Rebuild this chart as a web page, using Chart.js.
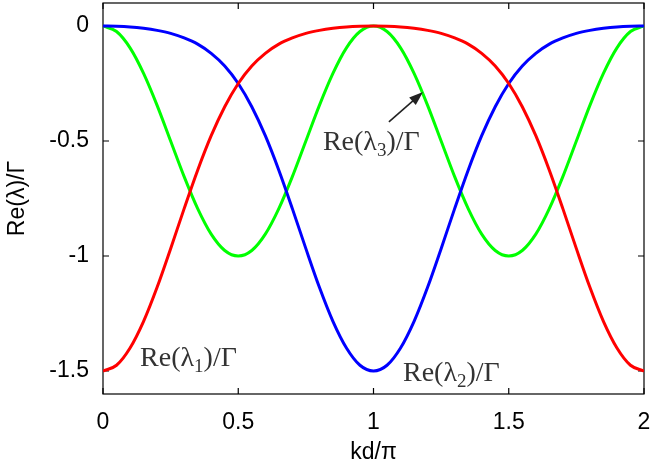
<!DOCTYPE html>
<html>
<head>
<meta charset="utf-8">
<script src="https://cdn.jsdelivr.net/npm/chart.js@4.4.1/dist/chart.umd.min.js"></script>
<style>
  html, body { margin: 0; padding: 0; background: #fff; }
  #wrap { width: 653px; height: 466px; }
</style>
</head>
<body>
<div id="wrap"><canvas id="eigChart"></canvas></div>
<script>
// kd/pi sample positions
const kd = [0, 0.05, 0.1, 0.15, 0.2, 0.25, 0.3, 0.35, 0.4, 0.45, 0.5,
            0.55, 0.6, 0.65, 0.7, 0.75, 0.8, 0.85, 0.9, 0.95, 1,
            1.05, 1.1, 1.15, 1.2, 1.25, 1.3, 1.35, 1.4, 1.45, 1.5,
            1.55, 1.6, 1.65, 1.7, 1.75, 1.8, 1.85, 1.9, 1.95, 2];

// Re(lambda_1)/Gamma
const lambda1 = [-1.5, -1.475, -1.4, -1.284, -1.136, -0.968, -0.794, -0.627, -0.477, -0.351, -0.25,
                 -0.174, -0.119, -0.079, -0.052, -0.032, -0.019, -0.01, -0.004, -0.001, 0,
                 -0.001, -0.004, -0.01, -0.019, -0.032, -0.052, -0.079, -0.119, -0.174, -0.25,
                 -0.351, -0.477, -0.627, -0.794, -0.968, -1.136, -1.284, -1.4, -1.475, -1.5];

// Re(lambda_2)/Gamma
const lambda2 = [0, -0.001, -0.004, -0.01, -0.019, -0.032, -0.052, -0.079, -0.119, -0.174, -0.25,
                 -0.351, -0.477, -0.627, -0.794, -0.968, -1.136, -1.284, -1.4, -1.475, -1.5,
                 -1.475, -1.4, -1.284, -1.136, -0.968, -0.794, -0.627, -0.477, -0.351, -0.25,
                 -0.174, -0.119, -0.079, -0.052, -0.032, -0.019, -0.01, -0.004, -0.001, 0];

// Re(lambda_3)/Gamma
const lambda3 = [0, -0.024, -0.095, -0.206, -0.345, -0.5, -0.655, -0.794, -0.905, -0.976, -1,
                 -0.976, -0.905, -0.794, -0.655, -0.5, -0.345, -0.206, -0.095, -0.024, 0,
                 -0.024, -0.095, -0.206, -0.345, -0.5, -0.655, -0.794, -0.905, -0.976, -1,
                 -0.976, -0.905, -0.794, -0.655, -0.5, -0.345, -0.206, -0.095, -0.024, 0];

const xTicks = [0, 0.5, 1, 1.5, 2];
const yTicks = [-1.5, -1, -0.5, 0];

const toPoints = (ys) => ys.map((y, i) => ({ x: kd[i], y: y }));

function curve(ys, color) {
  return {
    data: toPoints(ys),
    borderColor: color,
    borderWidth: 3,
    pointRadius: 0,
    fill: false,
    cubicInterpolationMode: 'monotone'
  };
}

// label like Re(λ₁)/Γ with a real subscript
function drawEigLabel(ctx, x, y, sub) {
  ctx.save();
  ctx.fillStyle = '#333';
  ctx.textBaseline = 'alphabetic';
  ctx.textAlign = 'left';
  ctx.font = '28px "Liberation Serif", "DejaVu Serif", serif';
  ctx.fillText('Re(λ', x, y);
  let cx = x + ctx.measureText('Re(λ').width;
  ctx.font = '19px "Liberation Serif", "DejaVu Serif", serif';
  ctx.fillText(sub, cx, y + 6);
  cx += ctx.measureText(sub).width;
  ctx.font = '28px "Liberation Serif", "DejaVu Serif", serif';
  ctx.fillText(')/Γ', cx, y);
  ctx.restore();
}

const framePlugin = {
  id: 'framePlugin',
  beforeDatasetsDraw(chart) {
    const { ctx, chartArea: a, scales } = chart;
    ctx.save();
    ctx.strokeStyle = '#000';
    ctx.lineWidth = 1.2;
    ctx.strokeRect(a.left, a.top, a.right - a.left, a.bottom - a.top);
    // inward ticks on all four sides
    const len = 6;
    ctx.beginPath();
    xTicks.forEach(v => {
      const px = scales.x.getPixelForValue(v);
      ctx.moveTo(px, a.bottom); ctx.lineTo(px, a.bottom - len);
      ctx.moveTo(px, a.top); ctx.lineTo(px, a.top + len);
    });
    yTicks.forEach(v => {
      const py = scales.y.getPixelForValue(v);
      ctx.moveTo(a.left, py); ctx.lineTo(a.left + len, py);
      ctx.moveTo(a.right, py); ctx.lineTo(a.right - len, py);
    });
    ctx.stroke();
    ctx.restore();
  },
  afterDatasetsDraw(chart) {
    const { ctx, scales } = chart;
    const X = v => scales.x.getPixelForValue(v);
    const Y = v => scales.y.getPixelForValue(v);

    drawEigLabel(ctx, X(0.137), Y(-1.478), '1');
    drawEigLabel(ctx, X(1.109), Y(-1.543), '2');
    drawEigLabel(ctx, X(0.813), Y(-0.539), '3');

    // arrow pointing at the green curve
    const x0 = X(1.057), y0 = Y(-0.417);
    const x1 = X(1.183), y1 = Y(-0.287);
    const ang = Math.atan2(y1 - y0, x1 - x0);
    ctx.save();
    ctx.strokeStyle = '#222';
    ctx.fillStyle = '#222';
    ctx.lineWidth = 1.6;
    ctx.beginPath();
    ctx.moveTo(x0, y0);
    ctx.lineTo(x1 - 10 * Math.cos(ang), y1 - 10 * Math.sin(ang));
    ctx.stroke();
    ctx.beginPath();
    ctx.moveTo(x1, y1);
    ctx.lineTo(x1 - 14 * Math.cos(ang) + 5 * Math.sin(ang), y1 - 14 * Math.sin(ang) - 5 * Math.cos(ang));
    ctx.lineTo(x1 - 14 * Math.cos(ang) - 5 * Math.sin(ang), y1 - 14 * Math.sin(ang) + 5 * Math.cos(ang));
    ctx.closePath();
    ctx.fill();
    ctx.restore();
  }
};

const sansFont = '"Liberation Sans", Arial, Helvetica, sans-serif';

new Chart(document.getElementById('eigChart'), {
  type: 'line',
  data: {
    datasets: [
      curve(lambda1, '#ff0000'),
      curve(lambda2, '#0000ff'),
      curve(lambda3, '#00ff00')
    ]
  },
  options: {
    responsive: true,
    maintainAspectRatio: false,
    animation: false,
    layout: { padding: { top: 3, right: 9, left: 0, bottom: 0 } },
    plugins: {
      legend: { display: false },
      tooltip: { enabled: false }
    },
    scales: {
      x: {
        type: 'linear',
        min: 0,
        max: 2,
        afterBuildTicks: (scale) => { scale.ticks = xTicks.map(v => ({ value: v })); },
        afterFit: (scale) => {
          scale.height = 72;
          scale.paddingLeft = 0;
          scale.paddingRight = 0;
        },
        grid: { display: false, drawTicks: false },
        border: { display: false },
        ticks: {
          padding: 15,
          color: '#000',
          font: { family: sansFont, size: 23 },
          maxRotation: 0,
          callback: (v) => String(v)
        },
        title: {
          display: true,
          text: 'kd/π',
          color: '#000',
          font: { family: sansFont, size: 23 },
          padding: { top: 0, bottom: 0 }
        }
      },
      y: {
        type: 'linear',
        min: -1.6,
        max: 0.1,
        afterBuildTicks: (scale) => { scale.ticks = yTicks.map(v => ({ value: v })); },
        afterFit: (scale) => {
          scale.width = 103;
          scale.paddingTop = 0;
          scale.paddingBottom = 0;
        },
        grid: { display: false, drawTicks: false },
        border: { display: false },
        ticks: {
          padding: 14,
          color: '#000',
          font: { family: sansFont, size: 23 },
          callback: (v) => String(v)
        },
        title: {
          display: true,
          text: 'Re(λ)/Γ',
          color: '#000',
          font: { family: sansFont, size: 23 },
          padding: { top: 4, bottom: 0 }
        }
      }
    }
  },
  plugins: [framePlugin]
});
</script>
</body>
</html>
